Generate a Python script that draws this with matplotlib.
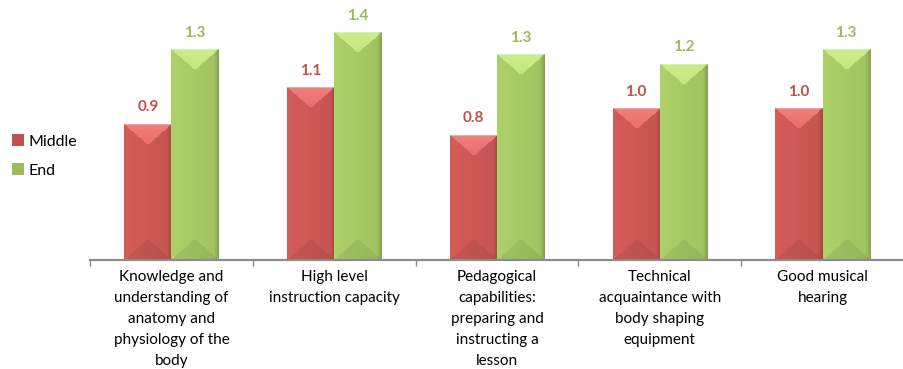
import numpy as np
import matplotlib
matplotlib.use("Agg")
import matplotlib.pyplot as plt
from matplotlib.patches import Patch

categories = [
    "Knowledge and\nunderstanding of\nanatomy and\nphysiology of the\nbody",
    "High level\ninstruction capacity",
    "Pedagogical\ncapabilities:\npreparing and\ninstructing a\nlesson",
    "Technical\nacquaintance with\nbody shaping\nequipment",
    "Good musical\nhearing",
]
series_names = ["Middle", "End"]
middle = [0.86, 1.09, 0.79, 0.96, 0.96]
end = [1.33, 1.44, 1.30, 1.24, 1.33]

RED = np.array([0.81, 0.35, 0.34])
GREEN = np.array([0.66, 0.80, 0.40])
RED_TXT = "#C0504D"
GREEN_TXT = "#9BBB59"

plt.rcParams["font.family"] = ["Lato", "DejaVu Sans"]


def bevel_image(base, w, h):
    """Shaded image for one bar, faceted like an angle bevel."""
    w = max(int(round(w)), 2)
    h = max(int(round(h)), 2)
    X, Y = np.meshgrid(np.arange(w) + 0.5, np.arange(h) + 0.5)
    dl, dr, dt, db = X, w - X, Y * 1.15, (h - Y) * 1.15
    face = np.argmin(np.stack([dl, dr, dt, db]), axis=0)
    u = X / w
    # body: soft left-to-right darkening
    shade = base * (1.03 - 0.08 * u)[..., None]
    # top face: lighter, still saturated, brightest at the top edge
    top = face == 2
    light = np.clip(base * 1.14, 0, 1)
    mix = 0.04 + 0.14 * (1 - dt[top] / (w / 2))
    shade[top] = light + (1 - light) * mix[:, None]
    # bottom face: a bit darker
    bot = face == 3
    shade[bot] = shade[bot] * 0.93
    # dark gradient on the right edge
    edge_r = np.clip(1 - dr / 5, 0, 1)
    shade = shade * (1 - 0.18 * edge_r)[..., None]
    # bright top edge line
    edge = Y < 1.5
    shade[edge] = shade[edge] + (1 - shade[edge]) * 0.3
    return np.clip(shade, 0, 1)


fig = plt.figure(figsize=(9.04, 3.69), dpi=100)
ax = fig.add_axes([90 / 904, 109 / 369, 814 / 904, 237 / 369])

x = np.arange(len(categories))
bw = 0.29
xlim = (-0.5, 4.448)
ylim = (0, 1.5)
ax.set_xlim(*xlim)
ax.set_ylim(*ylim)

px_x = 814 / (xlim[1] - xlim[0])
px_y = 237 / (ylim[1] - ylim[0])

for vals, base, txt_color, off in [(middle, RED, RED_TXT, -bw / 2), (end, GREEN, GREEN_TXT, bw / 2)]:
    bars = ax.bar(x + off, vals, bw, color=base, edgecolor="none", zorder=1)
    for b, v in zip(bars, vals):
        x0 = b.get_x()
        img = bevel_image(base, b.get_width() * px_x, v * px_y)
        ax.imshow(img, extent=[x0, x0 + b.get_width(), 0, v], origin="upper",
                  aspect="auto", interpolation="bilinear", zorder=2)
        ax.annotate(f"{v:.1f}", (x0 + b.get_width() / 2, v), xytext=(0, 7),
                    textcoords="offset points", ha="center", va="bottom",
                    color=txt_color, fontsize=11, fontweight="bold")

ax.set_xlim(*xlim)
ax.set_ylim(*ylim)

for s in ["top", "right", "left"]:
    ax.spines[s].set_visible(False)
ax.spines["bottom"].set_color("#8C8C8C")
ax.spines["bottom"].set_linewidth(1.6)
ax.yaxis.set_visible(False)

ax.set_xticks(x)
ax.set_xticklabels(categories, fontsize=11, linespacing=1.65)
ax.tick_params(axis="x", which="major", length=0, pad=7)
ax.set_xticks(np.arange(-0.5, len(categories), 1.0), minor=True)
ax.tick_params(axis="x", which="minor", length=4, width=1, color="#8C8C8C")

handles = [Patch(facecolor=RED_TXT, edgecolor="none"),
           Patch(facecolor=GREEN_TXT, edgecolor="none")]
fig.legend(handles, series_names, loc="center left",
           bbox_to_anchor=(-0.003, (369 - 156) / 369), frameon=False,
           fontsize=11.5, handlelength=0.8, handleheight=0.8,
           handletextpad=0.25, labelspacing=0.9, borderaxespad=0.5)

fig.savefig("out.png", dpi=100)
